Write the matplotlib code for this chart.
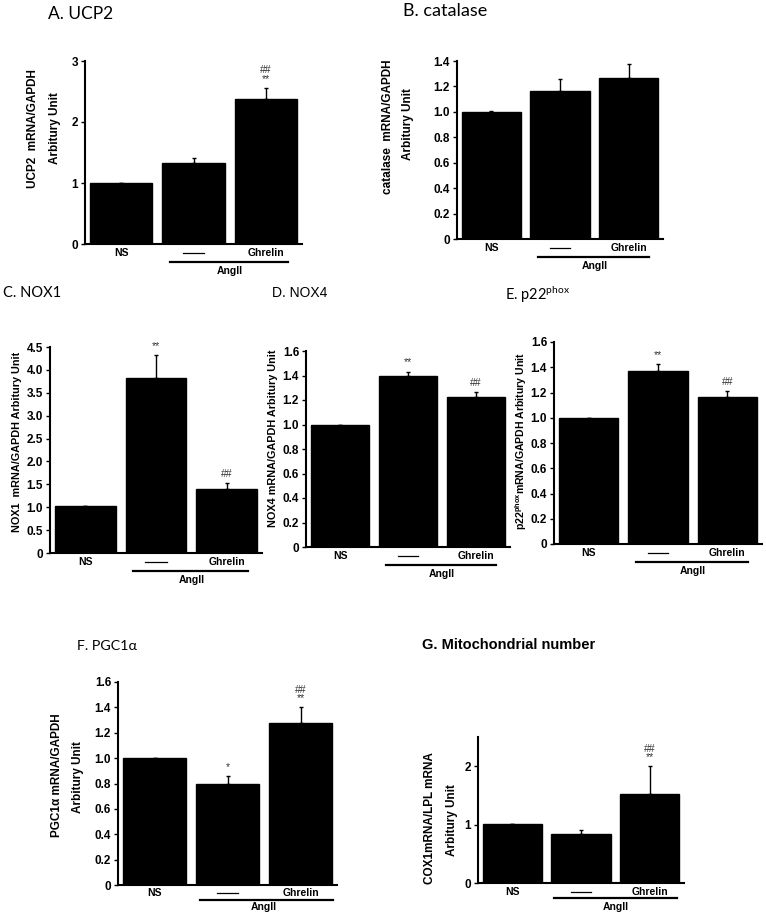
import numpy as np
import matplotlib
matplotlib.use('Agg')
import matplotlib.pyplot as plt
import matplotlib.transforms as mtransforms

plt.rcParams['font.family'] = ['Liberation Sans', 'DejaVu Sans']
plt.rcParams['mathtext.default'] = 'regular'

W, H = 766, 916

groups = ['NS', '\u2014\u2014', 'Ghrelin']

ucp2 = [1.0, 1.33, 2.37]
ucp2_err = [0.0, 0.08, 0.19]
catalase = [1.0, 1.167, 1.269]
catalase_err = [0.005, 0.09, 0.105]
nox1 = [1.03, 3.82, 1.40]
nox1_err = [0.0, 0.51, 0.13]
nox4 = [1.0, 1.396, 1.224]
nox4_err = [0.0, 0.035, 0.04]
p22 = [1.0, 1.37, 1.164]
p22_err = [0.0, 0.055, 0.05]
pgc = [1.0, 0.796, 1.277]
pgc_err = [0.0, 0.065, 0.125]
cox = [1.01, 0.84, 1.52]
cox_err = [0.0, 0.07, 0.48]

fig = plt.figure(figsize=(W / 100, H / 100), dpi=100)


def px_axes(l, t, r, b):
    return fig.add_axes([l / W, 1 - b / H, (r - l) / W, (b - t) / H])


def off(ax, dy):
    # blended transform (data x, axes y) shifted by dy pixels
    tr = mtransforms.blended_transform_factory(ax.transData, ax.transAxes)
    return tr + mtransforms.ScaledTranslation(0, dy / 100, fig.dpi_scale_trans)


def panel(rect, vals, errs, ylim, yticks, stars, hashes, fmt='%.1f',
          gaps=(9, 18, 27), bracket=(0.68, 2.3)):
    ax = px_axes(*rect)
    x = np.arange(3)
    ax.bar(x, vals, width=0.86, color='black', edgecolor='black')
    ax.errorbar(x, vals, yerr=[np.zeros(3), errs], fmt='none', ecolor='black',
                elinewidth=1, capsize=1.5, capthick=1)
    ax.set_xlim(-0.5, 2.5)
    ax.set_ylim(*ylim)
    ax.set_yticks(yticks)
    ax.set_yticklabels(['0' if v == 0 else fmt % v for v in yticks])
    for s in ['top', 'right']:
        ax.spines[s].set_visible(False)
    ax.spines['left'].set_linewidth(1.5)
    ax.spines['bottom'].set_linewidth(1.5)
    ax.set_xticks([])
    ax.tick_params(axis='y', direction='out', length=3, width=1, pad=2, labelsize=8.5)
    for lab in ax.get_yticklabels():
        lab.set_fontweight('bold')
    # group labels under the axis
    for i, g in enumerate(groups):
        if i == 1:
            ax.plot([i - 0.15, i + 0.15], [0, 0], color='black', lw=0.9,
                    transform=off(ax, -gaps[0]), clip_on=False)
        else:
            ax.text(i, 0, g, transform=off(ax, -gaps[0]), ha='center', va='center',
                    fontsize=7.5, fontweight='bold')
    ax.plot(list(bracket), [0, 0], color='black', lw=1.6, transform=off(ax, -gaps[1]),
            clip_on=False)
    ax.text(1.5, 0, 'AngII', transform=off(ax, -gaps[2]), ha='center', va='center',
            fontsize=7.5, fontweight='bold')
    # significance marks
    for i in range(3):
        top = vals[i] + errs[i]
        dy = 3
        if stars[i]:
            ax.annotate(stars[i], (i, top), xytext=(0, dy), textcoords='offset points',
                        ha='center', va='bottom', fontsize=7.5, color='#333333')
            dy += 6
        if hashes[i]:
            ax.annotate(hashes[i], (i, top), xytext=(0, dy), textcoords='offset points',
                        ha='center', va='bottom', fontsize=7.5, color='#333333')
    return ax


def ylab(x, y, s, size=8.5):
    fig.text(x / W, 1 - y / H, s, rotation=90, ha='center', va='center',
             fontsize=size, fontweight='bold')


def title(x, y, s, size=10, family='Lato', weight='normal'):
    fig.text(x / W, 1 - y / H, s, ha='left', va='center', fontsize=size,
             family=family, fontweight=weight)


# A. UCP2
panel((85, 61, 302, 244), ucp2, ucp2_err, (0, 3), [0, 1, 2, 3],
      ['', '', '**'], ['', '', '##'], fmt='%d')
title(48, 14, 'A. UCP2', size=12.5)
ylab(33, 129, 'UCP2  mRNA/GAPDH')
ylab(55, 128, 'Arbitury Unit')

# B. catalase
panel((457, 61, 663, 239), catalase, catalase_err, (0, 1.4),
      [0, 0.2, 0.4, 0.6, 0.8, 1.0, 1.2, 1.4], ['', '', ''], ['', '', ''])
title(403, 11, 'B. catalase', size=13)
ylab(388, 127, 'catalase  mRNA/GAPDH')
ylab(408, 124, 'Arbitury Unit')

# C. NOX1
panel((50, 347, 262, 553), nox1, nox1_err, (0, 4.5),
      [0, 0.5, 1.0, 1.5, 2.0, 2.5, 3.0, 3.5, 4.0, 4.5],
      ['', '**', ''], ['', '', '##'])
title(3, 293, 'C. NOX1', size=10.5)
ylab(17, 442, 'NOX1  mRNA/GAPDH Arbitury Unit', size=7.8)

# D. NOX4
panel((306, 351, 510, 547), nox4, nox4_err, (0, 1.6),
      [0, 0.2, 0.4, 0.6, 0.8, 1.0, 1.2, 1.4, 1.6],
      ['', '**', ''], ['', '', '##'])
title(272, 293, 'D. NOX4', size=10, family='Liberation Sans')
ylab(273, 438, 'NOX4 mRNA/GAPDH Arbitury Unit', size=7.8)

# E. p22phox
panel((554, 342, 762, 544), p22, p22_err, (0, 1.6),
      [0, 0.2, 0.4, 0.6, 0.8, 1.0, 1.2, 1.4, 1.6],
      ['', '**', ''], ['', '', '##'])
title(505, 295, r'E. p22$^{phox}$', size=10.5)
ylab(521, 441, r'p22$^{phox}$mRNA/GAPDH Arbitury Unit', size=7.6)

# F. PGC1a
panel((118, 682, 337, 885), pgc, pgc_err, (0, 1.6),
      [0, 0.2, 0.4, 0.6, 0.8, 1.0, 1.2, 1.4, 1.6],
      ['', '*', '**'], ['', '', '##'], gaps=(8, 15, 22), bracket=(0.62, 2.45))
title(77, 646, 'F. PGC1\u03b1', size=10.3)
ylab(57, 775, 'PGC1\u03b1 mRNA/GAPDH')
ylab(78, 777, 'Arbitury Unit')

# G. Mitochondrial number
panel((478, 737, 684, 883), cox, cox_err, (0, 2.5), [0, 1, 2],
      ['', '', '**'], ['', '', '##'], fmt='%d', gaps=(9, 15, 24), bracket=(0.6, 2.4))
title(422, 645, 'G. Mitochondrial number', size=10.5, family='Liberation Sans',
      weight='bold')
ylab(430, 818, 'COX1mRNA/LPL mRNA')
ylab(452, 820, 'Arbitury Unit')

fig.savefig('out.png', dpi=100)
